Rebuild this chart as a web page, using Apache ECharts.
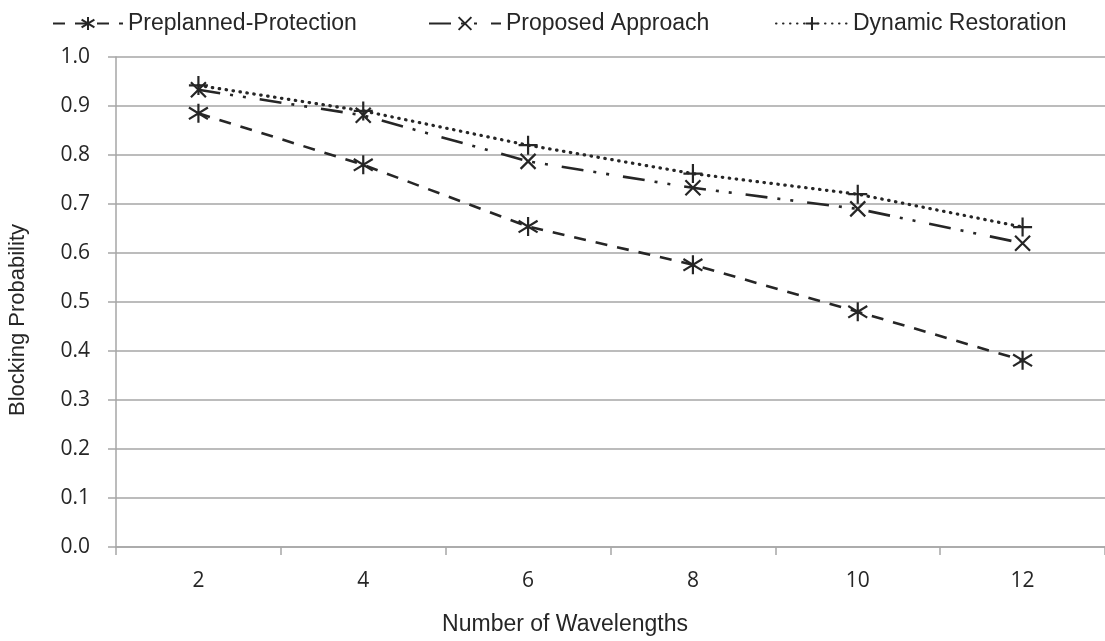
<!DOCTYPE html>
<html>
<head>
<meta charset="utf-8">
<script src="https://cdn.jsdelivr.net/npm/echarts@6/dist/echarts.min.js"></script>
<style>html,body{margin:0;padding:0;background:#fff;}#c{width:1105px;height:641px;}</style>
</head>
<body>
<div id="c"></div>
<script>
const categories = ['2', '4', '6', '8', '10', '12'];
const preplanned = [0.885, 0.780, 0.654, 0.576, 0.480, 0.381];
const proposed = [0.933, 0.881, 0.787, 0.733, 0.690, 0.620];
const dynamicR = [0.942, 0.890, 0.820, 0.762, 0.720, 0.653];
const seriesNames = ['Preplanned-Protection', 'Proposed Approach', 'Dynamic Restoration'];
const yTitle = 'Blocking Probability';
const xTitle = 'Number of Wavelengths';

const ink = '#262626';
const asterisk = 'path://M9,0L9,18M1.5,3.5L16.5,14.5M1.5,14.5L16.5,3.5';
const cross = 'path://M0,0L14,14M0,14L14,0';
const plus = 'path://M9,0L9,18M0,9L18,9';
const arial = '"Liberation Sans", Arial, sans-serif';

const chart = echarts.init(document.getElementById('c'));
const legendBase = {
  top: 7, itemHeight: 16,
  textStyle: { fontFamily: arial, fontSize: 23, color: ink }
};
chart.setOption({
  animation: false,
  backgroundColor: '#fff',
  legend: [
    Object.assign({}, legendBase, { left: 47, itemWidth: 70, data: [seriesNames[0]] }),
    Object.assign({}, legendBase, { left: 423, itemWidth: 72, data: [seriesNames[1]] }),
    Object.assign({}, legendBase, { left: 770, itemWidth: 72, data: [seriesNames[2]] })
  ],
  grid: { left: 116, top: 57, width: 992, height: 490, containLabel: false },
  xAxis: {
    type: 'category', data: categories, boundaryGap: true,
    axisLine: { lineStyle: { color: '#a6a6a6', width: 1.5 } },
    axisTick: { show: true, length: 8, lineStyle: { color: '#a6a6a6', width: 1.5 } },
    axisLabel: { margin: 24, fontFamily: '"Open Sans", sans-serif', fontSize: 21, color: ink }
  },
  yAxis: {
    type: 'value', min: 0, max: 1, interval: 0.1,
    axisLine: { show: true, lineStyle: { color: '#a6a6a6', width: 1.5 } },
    axisTick: { show: true, length: 8, lineStyle: { color: '#a6a6a6', width: 1.5 } },
    splitLine: { show: true, lineStyle: { color: '#a6a6a6', width: 1.5 } },
    axisLabel: { margin: 26, fontFamily: '"Open Sans", sans-serif', fontSize: 21, color: ink,
      formatter: v => v.toFixed(1) }
  },
  graphic: [
    { type: 'text', x: 18, y: 320, rotation: Math.PI / 2,
      style: { text: yTitle, font: '22px ' + arial, fill: ink, align: 'center', verticalAlign: 'middle' } },
    { type: 'text', x: 565, y: 625,
      style: { text: xTitle, font: '23px ' + arial, fill: ink, align: 'center', verticalAlign: 'middle' } }
  ],
  series: [
    { name: seriesNames[0], type: 'line', data: preplanned, symbol: asterisk, symbolSize: 19,
      lineStyle: { color: ink, width: 2.6, type: [12, 10] },
      itemStyle: { color: ink, borderColor: ink, borderWidth: 2.2 } },
    { name: seriesNames[1], type: 'line', data: proposed, symbol: cross, symbolSize: 15,
      lineStyle: { color: ink, width: 2.6, type: [22, 10, 3, 10, 3, 14] },
      itemStyle: { color: ink, borderColor: ink, borderWidth: 2.2 } },
    { name: seriesNames[2], type: 'line', data: dynamicR, symbol: plus, symbolSize: 19,
      lineStyle: { color: ink, width: 3.2, type: [0.5, 6.5], cap: 'round' },
      itemStyle: { color: ink, borderColor: ink, borderWidth: 2.2 } }
  ]
});
</script>
</body>
</html>
